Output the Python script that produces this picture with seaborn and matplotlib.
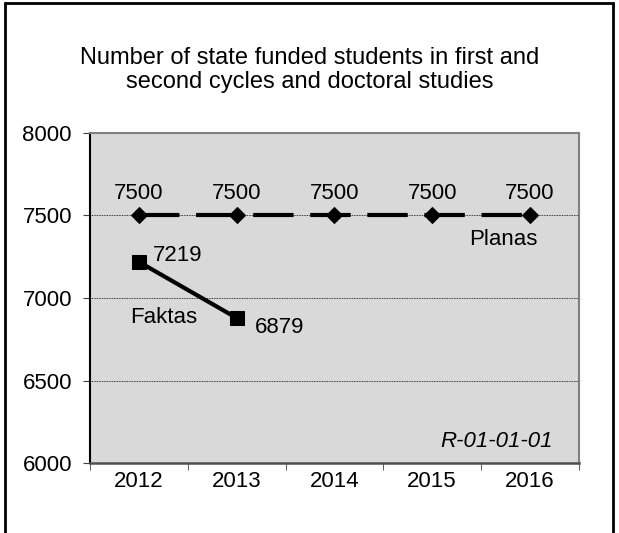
import pandas as pd
import matplotlib.pyplot as plt
import matplotlib.patches as mpatches
import seaborn as sns

years = ['2012', '2013', '2014', '2015', '2016']
planas = [7500, 7500, 7500, 7500, 7500]
faktas_years = ['2012', '2013']
faktas = [7219, 6879]

plan_df = pd.DataFrame({'Year': years, 'Value': planas})
fakt_df = pd.DataFrame({'Year': faktas_years, 'Value': faktas})

sns.set_style('white')
plt.rcParams['font.family'] = ['Liberation Sans', 'DejaVu Sans']
plt.rcParams['text.color'] = 'black'
plt.rcParams['xtick.color'] = 'black'
plt.rcParams['ytick.color'] = 'black'

fig = plt.figure(figsize=(6.19, 5.33), dpi=100)
ax = fig.add_axes([0.1454, 0.1313, 0.7896, 0.6192])
ax.set_facecolor('#d9d9d9')

sns.lineplot(x='Year', y='Value', data=plan_df, ax=ax, color='black', lw=3,
             marker='D', markersize=8, markeredgecolor='black', sort=False)
ax.lines[-1].set_dashes([9.7, 4])
sns.lineplot(x='Year', y='Value', data=fakt_df, ax=ax, color='black', lw=3,
             marker='s', markersize=10, markeredgecolor='black', sort=False)

ax.set_xlim(-0.5, 4.5)
ax.set_ylim(6000, 8000)
ax.set_yticks([6000, 6500, 7000, 7500, 8000])
ax.set_xticks(range(len(years)))
ax.set_xticklabels(years)
for y in [6500, 7000, 7500]:
    ax.axhline(y, color='black', lw=0.6, ls=(0, (1, 1)), zorder=0)
ax.set_xlabel('')
ax.set_ylabel('')
ax.tick_params(axis='both', labelsize=16, length=5, direction='out',
               left=True, bottom=True)
ax.set_xticks([-0.5, 0.5, 1.5, 2.5, 3.5, 4.5], minor=True)
ax.tick_params(axis='x', which='major', length=0, pad=6)
ax.tick_params(axis='x', which='minor', length=5, color='#404040', bottom=True)
ax.tick_params(axis='y', pad=8, color='#404040')
ax.spines['left'].set_color('black')
ax.spines['left'].set_linewidth(1.5)
ax.spines['bottom'].set_color('#505050')
ax.spines['bottom'].set_linewidth(1.8)
for s in ['top', 'right']:
    ax.spines[s].set_color('#808080')
    ax.spines[s].set_linewidth(1.5)

for i, v in enumerate(planas):
    ax.text(i, 7632, str(v), ha='center', va='center', fontsize=16)
ax.text(0.14, 7260, str(faktas[0]), ha='left', va='center', fontsize=16)
ax.text(1.19, 6824, str(faktas[1]), ha='left', va='center', fontsize=16)
ax.text(0.25, 6879, 'Faktas', ha='center', va='center', fontsize=16)
ax.text(3.73, 7352, 'Planas', ha='center', va='center', fontsize=16)
ax.text(0.947, 0.064, 'R-01-01-01', transform=ax.transAxes, ha='right', va='center',
        fontsize=16, style='italic')

fig.text(0.5, 0.869, 'Number of state funded students in first and\nsecond cycles and doctoral studies',
         ha='center', va='center', fontsize=17, linespacing=1.15)

fig.patches.append(mpatches.Rectangle((5 / 619, -0.05), 608 / 619, 1.0 - 3 / 533 + 0.05,
                                      transform=fig.transFigure, fill=False,
                                      edgecolor='black', lw=2))

fig.savefig('out.png', dpi=100)
